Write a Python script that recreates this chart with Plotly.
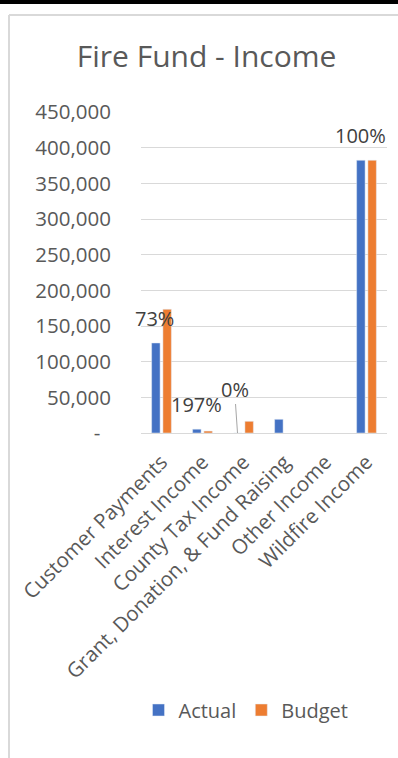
import plotly.graph_objects as go

categories = ["Customer Payments", "Interest Income", "County Tax Income",
              "Grant, Donation, & Fund Raising", "Other Income", "Wildfire Income"]
actual = [126200, 5320, 0, 19200, None, 382300]
budget = [173400, 2700, 16400, None, None, 382300]
tick_vals = [0, 50000, 100000, 150000, 200000, 250000, 300000, 350000, 400000, 450000]
tick_text = ["-\u00a0\u00a0", "50,000", "100,000", "150,000", "200,000", "250,000",
             "300,000", "350,000", "400,000", "450,000"]
# percentage labels: (category index, label y value, x pixel shift)
pct_labels = [(0, 160000, -7), (1, 40650, -6), (5, 417700, -6)]

FONT = "Open Sans"
GRAY_TXT = "#595959"
LBL_TXT = "#404040"
BLUE = "#4472C4"
ORANGE = "#ED7D31"
GRID = "#D9D9D9"

fig = go.Figure()
fig.add_trace(go.Bar(name="Actual", x=categories, y=actual, marker_color=BLUE))
fig.add_trace(go.Bar(name="Budget", x=categories, y=budget, marker_color=ORANGE))

def pct(a, b):
    return f"{round((a or 0) / b * 100):.0f}%"

for idx, yv, xs in pct_labels:
    fig.add_annotation(x=categories[idx], y=yv, xshift=xs, text=pct(actual[idx], budget[idx]),
                       showarrow=False, font=dict(family=FONT, size=20, color=LBL_TXT))

# County Tax label with leader line
fig.add_annotation(x=categories[2], y=0, xshift=-6, text=pct(actual[2], budget[2]),
                   showarrow=True, arrowhead=0, arrowwidth=1, arrowcolor="#A6A6A6",
                   ax=-3, ay=-44, standoff=0, startstandoff=0,
                   font=dict(family=FONT, size=20, color=LBL_TXT))

L, R, T, B = 141, 11, 112, 325
W, H = 398, 758
pw, ph = W - L - R, H - T - B
def px(x):
    return (x - L) / pw
def py(y):
    return (H - B - y) / ph

# outer frame (gray) and top black bar
fig.add_shape(type="line", xref="paper", yref="paper", x0=px(9), x1=px(9), y0=py(15), y1=py(760),
              line=dict(color=GRID, width=2))
fig.add_shape(type="line", xref="paper", yref="paper", x0=px(9), x1=px(400), y0=py(15), y1=py(15),
              line=dict(color=GRID, width=2))
fig.add_shape(type="rect", xref="paper", yref="paper", x0=px(-2), x1=px(400), y0=py(0), y1=py(4),
              line=dict(width=0), fillcolor="black")

fig.update_layout(
    width=W, height=H,
    margin=dict(l=L, r=R, t=T, b=B, autoexpand=False),
    paper_bgcolor="white", plot_bgcolor="white",
    barmode="group", bargap=0.45, bargroupgap=0.25,
    title=dict(text="Fire Fund - Income", x=0.519, xref="container", xanchor="center",
               y=1 - 56 / H, yref="container", yanchor="middle",
               font=dict(family=FONT, size=30, color=GRAY_TXT)),
    font=dict(family=FONT, size=20, color=GRAY_TXT),
    legend=dict(orientation="h", x=px(246), y=py(710), xanchor="center", yanchor="middle",
                font=dict(family=FONT, size=20, color=GRAY_TXT), itemclick=False),
    showlegend=True,
)
fig.update_yaxes(range=[0, 450000], tickvals=tick_vals, ticktext=tick_text, automargin=False,
                 showgrid=True, gridcolor=GRID, gridwidth=1, zeroline=False,
                 ticks="outside", ticklen=25, tickcolor="rgba(0,0,0,0)",
                 tickfont=dict(family=FONT, size=20.5, color=GRAY_TXT), showline=False)
fig.update_xaxes(type="category", categoryorder="array", categoryarray=categories,
                 range=[-0.5, len(categories) - 0.5],
                 tickangle=-45, showline=True, linecolor=GRID, linewidth=1, automargin=False,
                 ticks="outside", ticklen=8, tickcolor="rgba(0,0,0,0)",
                 tickfont=dict(family=FONT, size=20.5, color=GRAY_TXT))

fig.write_html("out.html")
